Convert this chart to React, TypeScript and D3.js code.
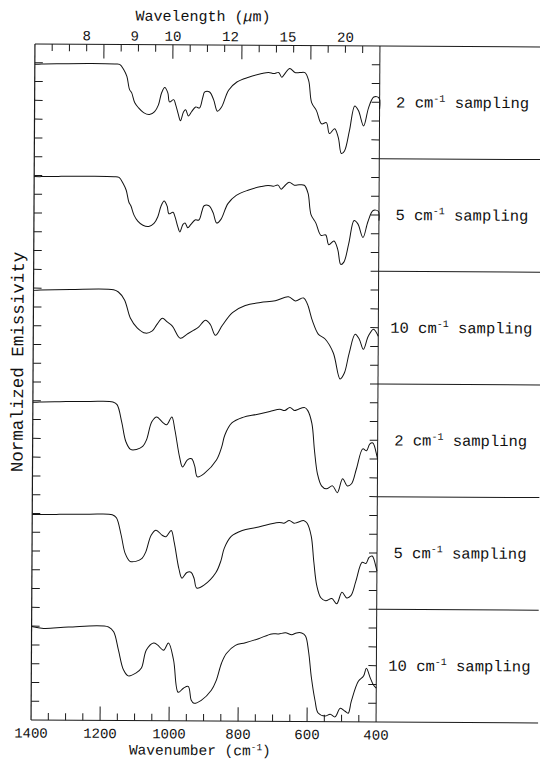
import React from "react";
import * as d3 from "d3";

// Canvas and frame geometry
const W = 540;
const H = 759;
const L = 33;
const R = 378;
const T = 45;
const B = 721;
const FAR_RIGHT = 540;
const N_PANELS = 6;
const FONT = "'Liberation Mono', 'DejaVu Sans Mono', monospace";
const FS = 15;

// Axis domains
const wnDomain: [number, number] = [1400, 400];
const emDomain: [number, number] = [0.75, 1.05];

// Tick labels
const wavenumberLabels = [1400, 1200, 1000, 800, 600, 400];
const wavelengthLabels = [8, 9, 10, 12, 15, 20];
const samplingLabels = ["2", "5", "10", "2", "5", "10"];

// Spectra: [wavenumber (cm^-1), normalized emissivity]
const sampleA2: [number, number][] = [
  [1400, 0.996], [1380, 0.997], [1322, 0.998], [1235, 0.999], [1168, 0.998], [1154, 0.997],
  [1142, 0.983], [1133, 0.965], [1125, 0.930], [1119, 0.922], [1110, 0.896], [1099, 0.882],
  [1084, 0.869], [1067, 0.864], [1052, 0.872], [1041, 0.890], [1032, 0.922], [1023, 0.936],
  [1014, 0.922], [1009, 0.898], [997, 0.904], [991, 0.890], [983, 0.864], [977, 0.848],
  [968, 0.872], [962, 0.877], [954, 0.861], [945, 0.872], [933, 0.885], [922, 0.882],
  [913, 0.909], [907, 0.925], [893, 0.925], [881, 0.904], [870, 0.874], [858, 0.885],
  [838, 0.930], [814, 0.952], [780, 0.965], [742, 0.975], [722, 0.978], [707, 0.975],
  [693, 0.978], [684, 0.965], [675, 0.975], [661, 0.989], [646, 0.978], [632, 0.978],
  [617, 0.978], [606, 0.957], [597, 0.898], [583, 0.877], [568, 0.842], [554, 0.845],
  [545, 0.816], [530, 0.829], [519, 0.805], [510, 0.763], [501, 0.770], [487, 0.824],
  [472, 0.890], [461, 0.877], [446, 0.837], [432, 0.885], [417, 0.914], [402, 0.912],
  [400, 0.882],
];

const sampleA5: [number, number][] = [
  [1400, 0.997], [1380, 0.997], [1322, 0.998], [1235, 0.999], [1168, 0.998], [1154, 0.996],
  [1142, 0.980], [1133, 0.962], [1125, 0.930], [1119, 0.920], [1110, 0.896], [1099, 0.880],
  [1084, 0.869], [1067, 0.866], [1052, 0.874], [1041, 0.892], [1032, 0.920], [1023, 0.934],
  [1014, 0.920], [1009, 0.900], [997, 0.904], [991, 0.892], [983, 0.866], [977, 0.852],
  [968, 0.872], [962, 0.876], [954, 0.863], [945, 0.872], [933, 0.884], [922, 0.884],
  [913, 0.908], [907, 0.922], [893, 0.922], [881, 0.904], [870, 0.876], [858, 0.886],
  [838, 0.928], [814, 0.950], [780, 0.964], [742, 0.974], [722, 0.977], [707, 0.975],
  [693, 0.978], [684, 0.967], [675, 0.975], [661, 0.986], [646, 0.978], [632, 0.979],
  [617, 0.978], [606, 0.957], [597, 0.900], [583, 0.878], [568, 0.845], [554, 0.846],
  [545, 0.820], [530, 0.830], [519, 0.808], [510, 0.768], [501, 0.774], [487, 0.824],
  [472, 0.885], [461, 0.876], [446, 0.840], [432, 0.882], [417, 0.912], [402, 0.910],
  [400, 0.885],
];

const sampleA10: [number, number][] = [
  [1400, 0.994], [1380, 0.995], [1293, 0.997], [1168, 0.997], [1154, 0.991], [1136, 0.970],
  [1119, 0.922], [1099, 0.896], [1075, 0.882], [1055, 0.888], [1041, 0.906], [1026, 0.922],
  [1012, 0.912], [997, 0.901], [974, 0.869], [954, 0.880], [936, 0.890], [922, 0.898],
  [901, 0.917], [887, 0.906], [872, 0.877], [852, 0.904], [823, 0.938], [786, 0.957],
  [742, 0.965], [699, 0.970], [661, 0.981], [641, 0.970], [617, 0.978], [606, 0.962],
  [591, 0.917], [574, 0.882], [554, 0.869], [530, 0.832], [510, 0.763], [498, 0.778],
  [484, 0.832], [467, 0.882], [455, 0.869], [443, 0.842], [429, 0.877], [414, 0.896],
  [400, 0.877],
];

const sampleB2: [number, number][] = [
  [1400, 0.996], [1380, 0.997], [1322, 0.998], [1235, 0.999], [1168, 0.998], [1156, 0.991],
  [1142, 0.944], [1130, 0.893], [1116, 0.872], [1099, 0.872], [1081, 0.880], [1070, 0.898],
  [1055, 0.946], [1041, 0.959], [1023, 0.944], [1012, 0.938], [997, 0.959], [988, 0.925],
  [974, 0.853], [965, 0.826], [951, 0.845], [939, 0.848], [930, 0.829], [922, 0.800],
  [901, 0.810], [867, 0.845], [852, 0.880], [843, 0.912], [823, 0.944], [791, 0.959],
  [751, 0.967], [713, 0.975], [684, 0.981], [670, 0.978], [655, 0.986], [641, 0.978],
  [632, 0.981], [612, 0.986], [603, 0.978], [591, 0.944], [583, 0.872], [574, 0.810],
  [562, 0.778], [548, 0.770], [530, 0.778], [516, 0.760], [501, 0.797], [487, 0.778],
  [475, 0.784], [461, 0.824], [443, 0.877], [432, 0.872], [423, 0.890], [414, 0.893],
  [402, 0.858], [400, 0.850],
];

const sampleB5: [number, number][] = [
  [1400, 0.997], [1380, 0.997], [1322, 0.998], [1235, 0.999], [1168, 0.998], [1156, 0.990],
  [1142, 0.944], [1130, 0.895], [1116, 0.874], [1099, 0.874], [1081, 0.882], [1070, 0.900],
  [1055, 0.944], [1041, 0.957], [1023, 0.944], [1012, 0.940], [997, 0.957], [988, 0.925],
  [974, 0.855], [965, 0.830], [951, 0.845], [939, 0.846], [930, 0.830], [922, 0.804],
  [901, 0.812], [867, 0.845], [852, 0.878], [843, 0.910], [823, 0.942], [791, 0.958],
  [751, 0.966], [713, 0.975], [684, 0.980], [670, 0.978], [655, 0.985], [641, 0.978],
  [632, 0.980], [612, 0.985], [603, 0.978], [591, 0.944], [583, 0.875], [574, 0.812],
  [562, 0.780], [548, 0.772], [530, 0.778], [516, 0.764], [501, 0.795], [487, 0.780],
  [475, 0.786], [461, 0.824], [443, 0.875], [432, 0.872], [423, 0.888], [414, 0.892],
  [402, 0.860], [400, 0.852],
];

const sampleB10: [number, number][] = [
  [1400, 0.999], [1365, 0.994], [1293, 0.998], [1177, 0.999], [1162, 0.986], [1148, 0.938],
  [1133, 0.885], [1119, 0.869], [1096, 0.877], [1081, 0.890], [1067, 0.938], [1046, 0.957],
  [1035, 0.952], [1017, 0.938], [1003, 0.957], [988, 0.912], [974, 0.826], [959, 0.837],
  [945, 0.842], [936, 0.805], [928, 0.797], [907, 0.805], [878, 0.832], [864, 0.858],
  [849, 0.904], [835, 0.930], [809, 0.952], [780, 0.959], [742, 0.970], [704, 0.983],
  [684, 0.983], [664, 0.986], [646, 0.981], [632, 0.986], [617, 0.986], [606, 0.978],
  [597, 0.938], [588, 0.866], [577, 0.805], [568, 0.773], [548, 0.765], [533, 0.770],
  [519, 0.763], [504, 0.786], [490, 0.778], [481, 0.773], [472, 0.805], [452, 0.858],
  [437, 0.872], [429, 0.893], [417, 0.866], [409, 0.850], [400, 0.840],
];

const spectra = [sampleA2, sampleA5, sampleA10, sampleB2, sampleB5, sampleB10];

export default function App() {
  const x = d3.scaleLinear().domain(wnDomain).range([L, R]);
  const panelH = (B - T) / N_PANELS;
  const yFor = (i: number) =>
    d3.scaleLinear().domain(emDomain).range([T + (i + 1) * panelH, T + i * panelH]);

  const line = (i: number) =>
    d3
      .line<[number, number]>()
      .x((d) => x(d[0]))
      .y((d) => yFor(i)(d[1]))
      .curve(d3.curveCatmullRom.alpha(0.5));

  const wnTicks = d3.range(1350, 400, -50);
  const isMajor = (v: number) => v % 200 === 0;
  const sideTicks = d3.range(1, N_PANELS * 6).map((k) => T + (k * panelH) / 6);

  const stroke = "#1a1a1a";
  const ink = "#111";

  return (
    <svg
      width={W}
      height={H}
      style={{ position: "absolute", left: 0, top: 0, background: "#fff" }}
      fontFamily={FONT}
    >
      <rect width={W} height={H} fill="#fff" />
      <g transform="rotate(0.33 205 383)">
        {/* frame */}
        <line x1={L} y1={T} x2={FAR_RIGHT} y2={T} stroke={stroke} strokeWidth={1} />
        <line x1={L} y1={B} x2={FAR_RIGHT} y2={B} stroke={stroke} strokeWidth={1} />
        <line x1={L} y1={T} x2={L} y2={B} stroke={stroke} strokeWidth={1.2} />
        <line x1={R} y1={T} x2={R} y2={B} stroke={stroke} strokeWidth={1} />
        {d3.range(1, N_PANELS).map((i) => (
          <line
            key={"sep" + i}
            x1={R}
            x2={FAR_RIGHT}
            y1={T + i * panelH}
            y2={T + i * panelH}
            stroke={stroke}
            strokeWidth={1}
          />
        ))}

        {/* wavenumber ticks, bottom and top */}
        {wnTicks.map((v) => (
          <g key={"t" + v}>
            <line
              x1={x(v)}
              x2={x(v)}
              y1={B}
              y2={B - (isMajor(v) ? 14 : 7)}
              stroke={stroke}
              strokeWidth={1}
            />
            <line
              x1={x(v)}
              x2={x(v)}
              y1={T}
              y2={T + (isMajor(v) ? 14 : 7)}
              stroke={stroke}
              strokeWidth={1}
            />
          </g>
        ))}

        {/* emissivity ticks, left and right */}
        {sideTicks.map((yy, k) => (
          <g key={"s" + k}>
            <line x1={L} x2={L + 8} y1={yy} y2={yy} stroke={stroke} strokeWidth={1} />
            <line x1={R} x2={R - 8} y1={yy} y2={yy} stroke={stroke} strokeWidth={1} />
          </g>
        ))}

        {/* spectra */}
        {spectra.map((s, i) => (
          <path
            key={"sp" + i}
            d={line(i)(s) || ""}
            fill="none"
            stroke={ink}
            strokeWidth={1}
          />
        ))}

        {/* bottom tick labels */}
        {wavenumberLabels.map((v) => (
          <text key={"bl" + v} x={x(v)} y={738.5} textAnchor="middle" fontSize={14} fill={ink}>
            {v}
          </text>
        ))}
        <text x={202} y={755} textAnchor="middle" fontSize={14.5} fill={ink}>
          Wavenumber (cm
          <tspan dy={-5} fontSize={9.5}>
            -1
          </tspan>
          <tspan dy={5}>)</tspan>
        </text>

        {/* top wavelength labels */}
        {wavelengthLabels.map((v) => (
          <text
            key={"tl" + v}
            x={x(10000 / v)}
            y={41}
            textAnchor="middle"
            fontSize={FS - 1}
            fill={ink}
          >
            {v}
          </text>
        ))}
        <text x={201} y={21} textAnchor="middle" fontSize={FS} fill={ink}>
          Wavelength (<tspan fontStyle="italic">μ</tspan>m)
        </text>

        {/* y axis title */}
        <text
          transform={`translate(23, ${363}) rotate(-90)`}
          textAnchor="middle"
          fontSize={17.5}
          fill={ink}
        >
          Normalized Emissivity
        </text>

        {/* sampling labels */}
        {samplingLabels.map((s, i) => (
          <text
            key={"pl" + i}
            x={461}
            y={T + (i + 0.5) * panelH + 5}
            textAnchor="middle"
            fontSize={15.5}
            fill={ink}
          >
            {s} cm
            <tspan dy={-6} fontSize={10}>
              -1
            </tspan>
            <tspan dy={6}> sampling</tspan>
          </text>
        ))}
      </g>
    </svg>
  );
}
